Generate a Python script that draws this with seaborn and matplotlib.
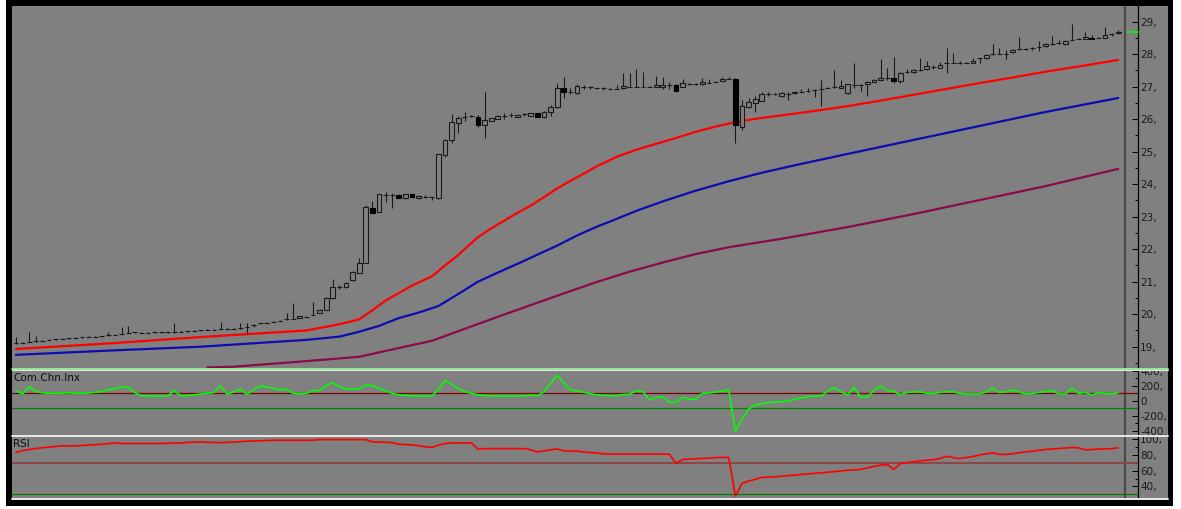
import matplotlib
matplotlib.use("Agg")
import matplotlib.pyplot as plt
from matplotlib.lines import Line2D
from matplotlib.patches import Rectangle
from matplotlib.ticker import MultipleLocator
from matplotlib.transforms import Bbox, TransformedBbox
import numpy as np
import seaborn as sns

# ---------------- data ----------------
opens = [19.10,19.12,19.15,19.17,19.19,19.21,19.23,19.24,19.26,19.28,
         19.29,19.30,19.31,19.32,19.35,19.37,19.40,19.43,19.44,19.43,
         19.43,19.44,19.44,19.44,19.44,19.46,19.47,19.49,19.50,19.51,
         19.52,19.54,19.55,19.56,19.57,19.60,19.68,19.72,19.74,19.77,
         19.80,19.84,19.86,19.88,19.92,19.98,20.05,20.13,20.49,20.83,
         20.83,21.05,21.28,21.58,23.28,23.15,23.67,23.67,23.67,23.57,
         23.69,23.57,23.62,23.60,23.57,24.90,25.36,25.87,26.08,26.10,
         26.06,25.82,25.95,26.01,26.10,26.13,26.08,26.15,26.11,26.18,
         26.06,26.21,26.37,26.95,26.83,26.80,26.98,26.98,26.95,26.95,
         26.94,26.94,26.95,27.00,27.00,27.00,27.00,27.00,26.98,27.05,
         27.05,27.00,27.08,27.08,27.08,27.12,27.15,27.18,27.24,27.24,
         25.77,26.37,26.51,26.57,26.77,26.77,26.71,26.77,26.80,26.85,
         26.87,26.90,26.93,26.97,26.98,26.97,26.80,27.05,27.05,27.07,
         27.15,27.21,27.28,27.28,27.18,27.44,27.44,27.51,27.54,27.60,
         27.58,27.72,27.74,27.74,27.74,27.74,27.87,27.87,28.00,28.01,
         28.01,28.06,28.15,28.16,28.18,28.23,28.25,28.31,28.34,28.30,
         28.44,28.47,28.47,28.51,28.51,28.51,28.61,28.64]
highs = [19.31,19.14,19.44,19.33,19.21,19.23,19.25,19.26,19.28,19.30,
         19.31,19.32,19.33,19.34,19.45,19.39,19.62,19.65,19.46,19.45,
         19.45,19.46,19.46,19.46,19.72,19.48,19.49,19.51,19.52,19.53,
         19.54,19.77,19.57,19.58,19.72,19.72,19.69,19.74,19.76,19.79,
         19.82,20.05,20.34,19.95,19.94,20.38,20.15,20.52,21.08,20.90,
         20.99,21.33,21.73,23.36,23.48,23.71,23.77,23.73,23.69,23.71,
         23.71,23.66,23.67,23.62,24.94,25.38,26.16,26.10,26.23,26.12,
         26.13,26.82,26.05,26.12,26.18,26.18,26.15,26.20,26.20,26.20,
         26.25,26.42,27.10,27.31,26.95,27.08,27.05,27.03,26.97,27.00,
         26.96,27.05,27.41,27.41,27.53,27.46,27.02,27.33,27.31,27.15,
         27.07,27.23,27.10,27.10,27.26,27.23,27.17,27.29,27.29,27.26,
         26.59,26.64,26.71,26.83,26.83,26.79,26.82,26.83,26.87,26.93,
         26.97,26.92,27.21,26.99,27.51,27.21,27.09,27.72,27.08,27.17,
         27.23,27.85,27.58,27.92,27.46,27.54,27.53,27.87,27.79,27.65,
         27.77,28.20,28.03,27.79,27.76,27.89,27.88,28.00,28.30,28.18,
         28.13,28.15,28.52,28.18,28.23,28.41,28.33,28.57,28.44,28.43,
         28.92,28.49,28.69,28.59,28.53,28.83,28.66,28.74]
lows = [19.08,19.10,19.13,19.16,19.18,19.20,19.22,19.23,19.25,19.27,
        19.28,19.29,19.30,19.31,19.34,19.36,19.39,19.42,19.43,19.42,
        19.42,19.43,19.43,19.43,19.43,19.45,19.46,19.48,19.49,19.50,
        19.51,19.53,19.54,19.55,19.56,19.43,19.62,19.71,19.73,19.76,
        19.79,19.83,19.85,19.87,19.91,19.97,20.04,20.12,20.47,20.78,
        20.82,21.03,21.27,21.57,23.11,23.13,23.46,23.27,23.56,23.55,
        23.60,23.55,23.57,23.51,23.55,24.85,25.28,25.58,25.95,26.08,
        25.75,25.41,25.93,25.99,26.01,26.08,26.06,26.10,26.09,26.06,
        26.04,26.10,26.35,26.64,26.77,26.78,26.93,26.93,26.93,26.90,
        26.92,26.92,26.93,26.98,26.98,26.98,26.98,26.98,26.92,26.92,
        26.86,26.98,27.06,27.06,27.06,27.10,27.13,27.16,27.22,25.28,
        25.67,26.35,26.23,26.55,26.71,26.75,26.69,26.59,26.78,26.83,
        26.85,26.69,26.39,26.95,26.96,26.95,26.78,26.96,26.87,26.72,
        27.13,27.19,27.21,27.10,27.10,27.42,27.42,27.49,27.52,27.55,
        27.56,27.41,27.72,27.69,27.72,27.72,27.72,27.85,27.98,27.99,
        27.85,28.04,28.13,28.14,28.13,28.11,28.23,28.29,28.32,28.28,
        28.42,28.45,28.45,28.47,28.49,28.49,28.56,28.62]
closes = [19.10,19.12,19.15,19.18,19.19,19.21,19.23,19.24,19.26,19.28,
          19.29,19.30,19.31,19.32,19.35,19.37,19.40,19.43,19.44,19.43,
          19.43,19.44,19.44,19.44,19.44,19.46,19.47,19.49,19.50,19.51,
          19.52,19.54,19.55,19.56,19.57,19.60,19.68,19.72,19.74,19.77,
          19.80,19.84,19.86,19.93,19.92,19.98,20.13,20.51,20.85,20.83,
          20.97,21.31,21.58,23.29,23.12,23.69,23.67,23.67,23.58,23.69,
          23.62,23.64,23.62,23.60,24.92,25.36,25.92,26.05,26.08,26.10,
          25.82,25.97,26.03,26.10,26.10,26.13,26.13,26.15,26.18,26.08,
          26.23,26.37,26.95,26.83,26.83,27.02,26.98,26.98,26.95,26.95,
          26.94,26.94,27.02,27.00,27.00,27.00,27.00,27.05,27.05,27.05,
          26.88,27.10,27.08,27.08,27.14,27.12,27.15,27.23,27.24,25.82,
          26.41,26.54,26.61,26.77,26.77,26.77,26.80,26.77,26.85,26.85,
          26.87,26.90,26.93,26.97,26.98,27.03,27.07,27.05,27.05,27.15,
          27.21,27.28,27.28,27.18,27.41,27.44,27.51,27.51,27.62,27.60,
          27.65,27.72,27.74,27.74,27.74,27.79,27.87,27.98,28.00,28.01,
          28.01,28.13,28.15,28.16,28.18,28.23,28.31,28.31,28.34,28.41,
          28.44,28.47,28.52,28.48,28.51,28.59,28.61,28.69]

# moving averages, read at bar positions
red_x = [0, 14, 29, 44, 49, 52, 54, 56, 58, 60, 63, 65, 67, 70, 72, 74, 76, 78,
         80, 82, 84, 86, 88, 91, 94, 97, 100, 103, 106, 109, 112, 115, 118, 122,
         126, 131, 136, 141, 146, 151, 156, 161, 167]
red_v = [18.93, 19.10, 19.31, 19.50, 19.69, 19.84, 20.12, 20.42, 20.65, 20.88,
         21.16, 21.50, 21.82, 22.37, 22.64, 22.88, 23.12, 23.34, 23.60, 23.87,
         24.10, 24.32, 24.55, 24.84, 25.06, 25.24, 25.42, 25.61, 25.77, 25.91,
         26.01, 26.09, 26.17, 26.28, 26.40, 26.57, 26.75, 26.93, 27.11, 27.28,
         27.46, 27.62, 27.82]
blue_x = [0, 14, 28, 44, 49, 52, 55, 58, 61, 64, 67, 70, 73, 76, 79, 82, 85, 88,
          91, 94, 98, 103, 108, 113, 118, 126, 136, 146, 156, 167]
blue_v = [18.75, 18.88, 19.00, 19.21, 19.31, 19.46, 19.64, 19.88, 20.05, 20.25,
          20.62, 21.00, 21.28, 21.55, 21.83, 22.11, 22.42, 22.69, 22.93, 23.18,
          23.47, 23.80, 24.09, 24.35, 24.58, 24.93, 25.36, 25.79, 26.22, 26.65]
purple_x = [29, 33, 43, 52, 58, 63, 68, 73, 78, 83, 88, 93, 98, 103, 108, 116,
            126, 136, 146, 156, 167]
purple_v = [18.36, 18.385, 18.54, 18.69, 18.96, 19.18, 19.55, 19.92, 20.28,
            20.64, 20.99, 21.31, 21.59, 21.85, 22.06, 22.32, 22.68, 23.08,
            23.51, 23.94, 24.47]

cci = [135, 92, 188, 125, 108, 100, 100, 102, 108, 100,
       100, 105, 113, 122, 150, 158, 189, 180, 109, 69,
       64, 64, 64, 64, 136, 64, 69, 80, 91, 102,
       110, 198, 91, 120, 153, 87, 144, 198, 182, 167,
       144, 155, 100, 91, 100, 136, 136, 200, 242, 189,
       158, 158, 158, 211, 202, 167, 133, 100, 80, 72,
       64, 64, 64, 64, 150, 269, 220, 167, 122, 100,
       78, 70, 64, 64, 64, 64, 64, 64, 78, 64,
       122, 230, 345, 240, 145, 130, 115, 95, 78, 72,
       68, 64, 85, 87, 135, 122, 11, 42, 56, -20,
       -20, 47, 20, 24, 100, 105, 115, 130, 144, -405,
       -245, -111, -55, -38, -22, -17, -12, -5, 20, 38,
       56, 62, 64, 130, 175, 120, 78, 178, 47, 50,
       140, 198, 136, 125, 80, 113, 117, 122, 100, 95,
       113, 120, 122, 100, 91, 91, 91, 120, 167, 110,
       118, 144, 118, 91, 100, 113, 122, 136, 91, 91,
       167, 100, 113, 78, 106, 96, 91, 109]
rsi = [83.0, 85.5, 86.9, 88.2, 89.2, 90.0, 90.8, 91.5, 91.5, 91.5,
       92.0, 92.4, 93.0, 93.6, 94.5, 95.3, 94.5, 94.5, 94.5, 94.5,
       94.5, 94.5, 94.5, 94.8, 95.3, 95.3, 95.8, 96.2, 96.6, 96.0,
       95.7, 95.7, 96.0, 96.5, 97.0, 97.4, 97.7, 97.9, 98.3, 98.7,
       98.7, 98.7, 98.7, 98.7, 98.7, 98.7, 99.5, 99.5, 99.5, 99.5,
       99.5, 99.5, 99.5, 99.5, 96.6, 96.4, 96.0, 95.7, 93.6, 93.2,
       92.5, 91.8, 90.5, 89.4, 92.4, 94.5, 95.3, 95.3, 95.3, 95.3,
       87.3, 88.1, 88.1, 88.1, 88.1, 88.1, 88.1, 88.1, 86.5, 83.9,
       85.2, 86.5, 87.7, 85.2, 85.0, 84.8, 83.8, 83.1, 82.5, 81.5,
       81.0, 81.0, 81.0, 81.0, 81.0, 81.0, 81.0, 81.0, 81.0, 81.0,
       69.2, 74.2, 74.8, 75.2, 75.5, 76.0, 76.6, 76.8, 76.8, 27.8,
       43.8, 46.8, 49.0, 51.4, 51.8, 52.2, 53.0, 53.8, 54.5, 55.2,
       56.0, 56.5, 57.3, 58.0, 58.8, 59.6, 60.5, 61.0, 61.6, 63.5,
       65.5, 67.0, 67.9, 61.6, 69.2, 70.3, 71.4, 72.4, 73.3, 74.0,
       75.5, 78.4, 76.5, 75.5, 76.6, 78.0, 80.0, 81.5, 82.7, 80.6,
       80.8, 81.5, 82.8, 84.0, 84.8, 85.8, 86.9, 87.5, 88.1, 88.7,
       89.4, 89.0, 86.5, 86.9, 87.2, 87.6, 88.1, 89.0]

last_price = 28.67
price_ticks = list(range(19, 30))
price_labels = [f"{v}," for v in price_ticks]
cci_ticks = [-400, -200, 0, 200, 400]
cci_labels = ["-400.", "-200,", "0", "200,", "400,"]
cci_levels = [100, -100]
rsi_ticks = [40, 60, 80, 100]
rsi_labels = ["40,", "60,", "80,", "100,"]
rsi_levels = [70, 30]

# ---------------- styling ----------------
sns.set_theme(style="white")
plt.rcParams["font.family"] = ["DejaVu Sans"]

GRAY = "#808080"
W, H = 1181, 509
fig = plt.figure(figsize=(W / 100, H / 100), dpi=100)
fig.patch.set_facecolor("white")


def px_rect(x0, y0, x1, y1):
    return [x0 / W, 1 - y1 / H, (x1 - x0) / W, (y1 - y0) / H]


fig.add_artist(Rectangle((6 / W, 1 - 506 / H), (1173 - 6) / W, 506 / H,
                         transform=fig.transFigure, facecolor="black",
                         edgecolor="none", zorder=-20))
fig.add_artist(Rectangle((12 / W, 1 - 500 / H), (1168 - 12) / W, (500 - 6) / H,
                         transform=fig.transFigure, facecolor=GRAY,
                         edgecolor="none", zorder=-19))

ax_p = fig.add_axes(px_rect(12, 6, 1138, 368))
ax_c = fig.add_axes(px_rect(12, 370, 1138, 435))
ax_r = fig.add_axes(px_rect(12, 437, 1138, 498))

n = len(closes)
bars = np.arange(n)
for ax in (ax_p, ax_c, ax_r):
    ax.set_facecolor(GRAY)
    for s in ("left", "top", "bottom"):
        ax.spines[s].set_visible(False)
    ax.spines["right"].set_color("black")
    ax.spines["right"].set_linewidth(0.9)
    ax.set_xlim(-0.6, 170)
    ax.set_xticks([])
    ax.yaxis.tick_right()
    ax.tick_params(axis="y", which="major", direction="in", length=4.5,
                   width=0.7, color="black", pad=1.5, labelsize=7.5,
                   labelcolor="#1a1a1a")
    ax.tick_params(axis="y", which="minor", direction="in", length=2.2,
                   width=0.7, color="black")
    ax.axvline(n, color="#4a4a4a", lw=1.6, zorder=1)
    ax.grid(False)

# ---- price panel ----
o = np.array(opens)
c = np.array(closes)
up = c >= o
bottoms = np.minimum(o, c)
heights = np.abs(c - o)
ax_p.vlines(bars, lows, highs, color="#1a1a1a", lw=0.8, zorder=3)
ax_p.bar(bars[up], heights[up], bottom=bottoms[up], width=0.72,
         facecolor=GRAY, edgecolor="#1a1a1a", linewidth=0.8, zorder=4)
ax_p.bar(bars[~up], heights[~up], bottom=bottoms[~up], width=0.72,
         facecolor="black", edgecolor="black", linewidth=0.8, zorder=4)

sns.lineplot(x=purple_x, y=purple_v, ax=ax_p, color="#8a0a4a", lw=1.6, zorder=2)
sns.lineplot(x=blue_x, y=blue_v, ax=ax_p, color="#0c0cb0", lw=1.6, zorder=2)
sns.lineplot(x=red_x, y=red_v, ax=ax_p, color="#ff0000", lw=1.6, zorder=2)
ax_p.plot([n + 0.4, 170], [last_price, last_price], color="#00ff00", lw=1.2,
          clip_on=False, zorder=5)

ax_p.set_ylim(18.345, 29.48)
ax_p.set_yticks(price_ticks, labels=price_labels)
ax_p.yaxis.set_minor_locator(MultipleLocator(0.5))

# ---- CCI panel ----
ax_c.axhline(cci_levels[0], color="#800000", lw=0.9, zorder=1)
ax_c.axhline(cci_levels[1], color="#008000", lw=0.9, zorder=1)
sns.lineplot(x=bars, y=cci, ax=ax_c, color="#00ff00", lw=1.2, zorder=3)
ax_c.set_ylim(-456, 411)
ax_c.set_yticks(cci_ticks, labels=cci_labels)
ax_c.yaxis.set_minor_locator(MultipleLocator(100))
ax_c.text(0.001, 0.96, "Com.Chn.Inx", transform=ax_c.transAxes, ha="left",
          va="top", fontsize=7.5, color="#101010")

# ---- RSI panel ----
ax_r.axhline(rsi_levels[0], color="#8c4646", lw=1.4, zorder=1)
ax_r.axhline(rsi_levels[1], color="#008000", lw=0.9, zorder=1)
sns.lineplot(x=bars, y=rsi, ax=ax_r, color="#ff0000", lw=1.2, zorder=3)
ax_r.set_ylim(25.3, 102.8)
ax_r.set_yticks(rsi_ticks, labels=rsi_labels)
ax_r.yaxis.set_minor_locator(MultipleLocator(10))
ax_r.text(0.001, 0.975, "RSI", transform=ax_r.transAxes, ha="left",
          va="top", fontsize=7.5, color="#101010")

for ax in (ax_p, ax_c, ax_r):
    ax.set_xlabel("")
    ax.set_ylabel("")
    leg = ax.get_legend()
    if leg is not None:
        leg.remove()

# ---- panel separators ----
fig.add_artist(Line2D([12 / W, 1168 / W], [1 - 368.8 / H] * 2,
                      transform=fig.transFigure, color="#98f098", lw=1.3, zorder=10))
fig.add_artist(Line2D([12 / W, 1168 / W], [1 - 370.0 / H] * 2,
                      transform=fig.transFigure, color="#e6e6e6", lw=0.8, zorder=10))
fig.add_artist(Line2D([12 / W, 1168 / W], [1 - 436.0 / H] * 2,
                      transform=fig.transFigure, color="#f2f2f2", lw=1.3, zorder=10))
fig.add_artist(Line2D([12 / W, 1168 / W], [1 - 499.0 / H] * 2,
                      transform=fig.transFigure, color="#f2f2f2", lw=1.3, zorder=10))

# clip the CCI labels at the panel top (the top label is cut in the original)
fig.canvas.draw()
clip = TransformedBbox(Bbox.from_extents(0, 0, 1, 1 - 370.5 / H), fig.transFigure)
for t in ax_c.yaxis.get_major_ticks():
    t.label2.set_clip_box(clip)
    t.label2.set_clip_on(True)

fig.savefig("out.png", dpi=100, facecolor=fig.get_facecolor())
